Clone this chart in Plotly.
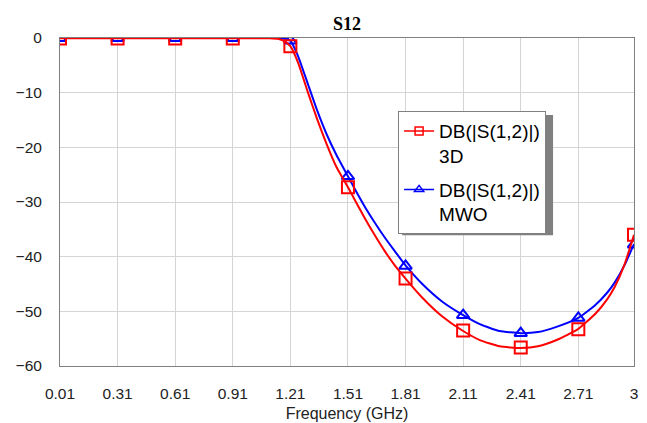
import plotly.graph_objects as go

# Tick frequencies / marker positions (GHz)
tick_freq = [0.01, 0.31, 0.61, 0.91, 1.21, 1.51, 1.81, 2.11, 2.41, 2.71, 3.0]
tick_text = ["0.01", "0.31", "0.61", "0.91", "1.21", "1.51", "1.81", "2.11", "2.41", "2.71", "3"]

# Marker values (dB)
marker_3d = [-0.1, -0.1, -0.1, -0.1, -1.5, -27.3, -44.0, -53.5, -56.6, -53.3, -36.0]
marker_mwo = [-0.05, -0.05, -0.05, -0.05, -0.5, -25.3, -41.7, -50.7, -54.0, -51.2, -37.8]

# Curve samples
curve_freq = [0.01, 0.31, 0.61, 0.91, 1.0, 1.1, 1.15, 1.18, 1.21, 1.25, 1.3, 1.35, 1.4, 1.45,
              1.51, 1.55, 1.6, 1.65, 1.7, 1.75, 1.81, 1.9, 2.0, 2.11, 2.2, 2.3, 2.41,
              2.5, 2.6, 2.71, 2.8, 2.86, 2.9, 2.95, 3.0]
curve_3d = [-0.05, -0.05, -0.05, -0.05, -0.05, -0.05, -0.2, -0.6, -1.5, -4.5, -9.8, -14.9, -19.5, -23.6,
            -27.3, -29.9, -33.1, -36.1, -38.9, -41.4, -44.0, -47.6, -50.9, -53.6, -55.3, -56.4, -56.7,
            -56.4, -55.2, -53.2, -50.4, -47.8, -45.5, -41.5, -36.0]
curve_mwo = [0.0, 0.0, 0.0, 0.0, 0.0, 0.0, 0.0, -0.15, -0.5, -3.3, -8.3, -13.3, -17.7, -21.4,
             -25.3, -27.9, -31.0, -33.8, -36.4, -38.8, -41.6, -45.1, -48.2, -50.7, -52.4, -53.6, -54.0,
             -53.8, -52.8, -51.2, -48.8, -46.6, -44.7, -41.6, -37.7]

names = ["DB(|S(1,2)|)<br>3D", "DB(|S(1,2)|)<br>MWO"]
RED = "#ff0000"
BLUE = "#0000ff"

fig = go.Figure()

# blue first (red drawn on top)
fig.add_trace(go.Scatter(x=curve_freq, y=curve_mwo, mode="lines",
                         line=dict(color=BLUE, width=2, shape="spline", smoothing=0.5),
                         showlegend=False, hoverinfo="skip"))
fig.add_trace(go.Scatter(x=tick_freq, y=marker_mwo, mode="markers",
                         marker=dict(symbol="triangle-up-open", size=11, color=BLUE, line=dict(width=2, color=BLUE)),
                         showlegend=False))
fig.add_trace(go.Scatter(x=curve_freq, y=curve_3d, mode="lines",
                         line=dict(color=RED, width=2, shape="spline", smoothing=0.5),
                         showlegend=False, hoverinfo="skip"))
fig.add_trace(go.Scatter(x=tick_freq, y=marker_3d, mode="markers",
                         marker=dict(symbol="square-open", size=12, color=RED, line=dict(width=2, color=RED)),
                         showlegend=False))

# legend entries
fig.add_trace(go.Scatter(x=[None], y=[None], mode="lines+markers", name=names[0], legendgroup="a", legendrank=1,
                         line=dict(color=RED, width=1.5),
                         marker=dict(symbol="square-open", size=8, color=RED, line=dict(width=1.5, color=RED))))
fig.add_trace(go.Scatter(x=[None], y=[None], mode="lines+markers", name=names[1], legendgroup="b", legendrank=2,
                         line=dict(color=BLUE, width=1.5),
                         marker=dict(symbol="triangle-up-open", size=8, color=BLUE, line=dict(width=1.5, color=BLUE))))

axis_font = dict(family="Liberation Sans, Arial, sans-serif", size=15.5, color="#222222")

W, H = 639, 415  # page has 8px body margin
fig.update_layout(
    width=W, height=H,
    margin=dict(l=52, r=13, t=30, b=57, autoexpand=False),
    paper_bgcolor="white", plot_bgcolor="white",
    title=dict(text="<b>S12</b>", x=339 / W, xanchor="center", y=1 - 16 / H, yanchor="middle",
               yref="container", font=dict(family="Liberation Serif, Times New Roman, serif", size=18, color="#000")),
    xaxis=dict(range=[0.01, 3.0], tickvals=tick_freq, ticktext=tick_text, showgrid=True, gridcolor="#d4d4d4",
               gridwidth=1, showline=True, linecolor="#808080", linewidth=1, mirror=True, ticks="", zeroline=False,
               tickfont=axis_font, ticklabelstandoff=13, automargin=False,
               title=dict(text="Frequency (GHz)", font=dict(family="Liberation Sans, Arial, sans-serif", size=16, color="#222222"), standoff=7)),
    yaxis=dict(range=[-60, 0], dtick=10, showgrid=True, gridcolor="#d4d4d4", gridwidth=1, showline=True,
               linecolor="#808080", linewidth=1, mirror=True, ticks="", zeroline=False, tickfont=axis_font,
               ticklabelstandoff=14, automargin=False),
    legend=dict(x=0.589, y=0.777, xanchor="left", yanchor="top", bgcolor="white", bordercolor="#808080",
                borderwidth=1, font=dict(family="Liberation Sans, Arial, sans-serif", size=19, color="#000"),
                traceorder="grouped", tracegroupgap=6, itemwidth=30, valign="top"),
    showlegend=True,
)

# legend shadow
fig.add_shape(type="rect", xref="paper", yref="paper", x0=0.596, x1=0.859, y0=0.399, y1=0.765,
              fillcolor="#808080", line=dict(width=0), layer="above")

fig.write_html("out.html")
